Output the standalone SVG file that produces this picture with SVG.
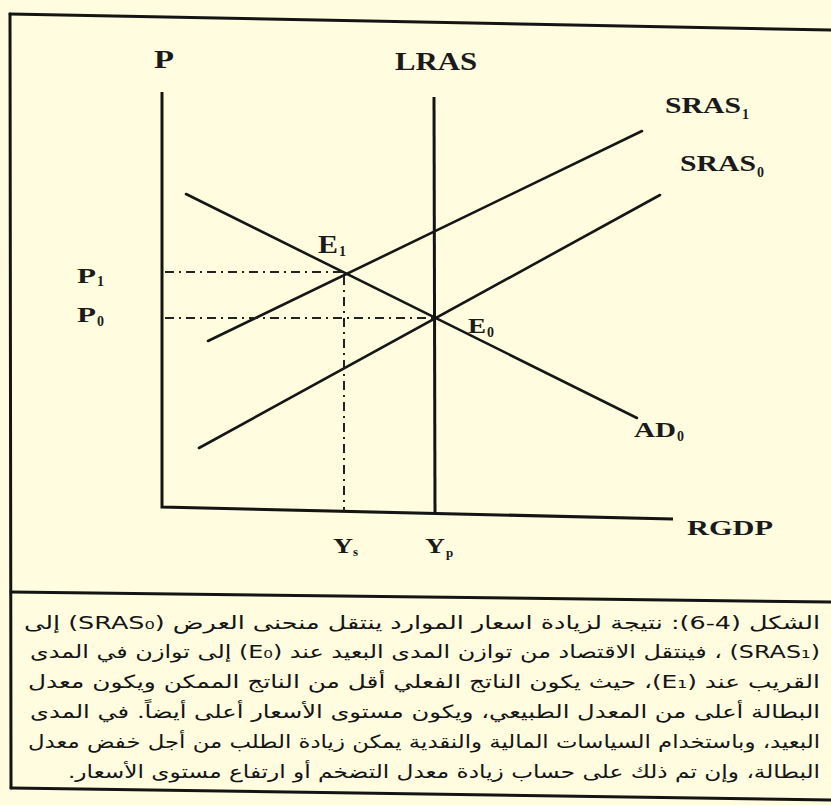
<svg xmlns="http://www.w3.org/2000/svg" width="831" height="805" viewBox="0 0 831 805">
<style>
.bg{fill:#FFFCDF}
.frame{stroke:#141414;stroke-width:3;fill:none;stroke-linecap:round}
.axis{stroke:#141414;stroke-width:3;fill:none}
.curve{stroke:#161616;stroke-width:2.6;fill:none;stroke-linecap:round}
.guide{stroke:#222;stroke-width:2;fill:none;stroke-dasharray:9 5 2 5}
.lbl{font-family:"Liberation Serif","DejaVu Serif",serif;font-weight:bold;fill:#1a1a1a}
.cap{font-family:"DejaVu Sans","Noto Sans",sans-serif;font-size:18px;fill:#141414}
</style>
<rect class="bg" x="0" y="0" width="831" height="805"/>
<g id="frame">
<path class="frame" d="M10,14 L831,30"/>
<path class="frame" d="M10,14 L11,788"/>
<path class="frame" d="M11,592 L831,602"/>
<path class="frame" d="M11,788 L831,800"/>
</g>
<g id="axes">
<path class="axis" d="M162,92 L162,507 L673,519"/>
</g>
<g id="connectors">
<path id="lras" class="axis" d="M434,97 L435,512"/>
<path id="ad0" class="curve" d="M186,194 L637,418"/>
<path id="sras1" class="curve" d="M208,341 L642,131"/>
<path id="sras0" class="curve" d="M199,448 L660,195"/>
<path id="p1-guide" class="guide" d="M165,272 L344,272"/>
<path id="p0-guide" class="guide" d="M165,318 L434,318"/>
<path id="ys-guide" class="guide" d="M344,276 L344,511"/>
</g>
<g id="label-P"><text class="lbl" x="154" y="68" font-size="25" textLength="20" lengthAdjust="spacingAndGlyphs">P</text></g>
<g id="label-LRAS"><text class="lbl" x="395" y="70" font-size="25" textLength="82" lengthAdjust="spacingAndGlyphs">LRAS</text></g>
<g id="label-SRAS1"><text class="lbl" x="665" y="113" font-size="23" textLength="76" lengthAdjust="spacingAndGlyphs">SRAS</text><text class="lbl" x="742" y="119" font-size="14">1</text></g>
<g id="label-SRAS0"><text class="lbl" x="680" y="171" font-size="23" textLength="76" lengthAdjust="spacingAndGlyphs">SRAS</text><text class="lbl" x="757" y="177" font-size="14">0</text></g>
<g id="label-E1"><text class="lbl" x="318" y="253" font-size="25" textLength="20" lengthAdjust="spacingAndGlyphs">E</text><text class="lbl" x="339" y="256" font-size="14">1</text></g>
<g id="label-P1"><text class="lbl" x="77" y="283" font-size="22" textLength="19" lengthAdjust="spacingAndGlyphs">P</text><text class="lbl" x="97" y="286" font-size="14">1</text></g>
<g id="label-P0"><text class="lbl" x="77" y="322" font-size="22" textLength="19" lengthAdjust="spacingAndGlyphs">P</text><text class="lbl" x="97" y="326" font-size="14">0</text></g>
<g id="label-E0"><text class="lbl" x="468" y="333" font-size="22" textLength="18" lengthAdjust="spacingAndGlyphs">E</text><text class="lbl" x="487" y="337" font-size="14">0</text></g>
<g id="label-AD0"><text class="lbl" x="634" y="437" font-size="22" textLength="42" lengthAdjust="spacingAndGlyphs">AD</text><text class="lbl" x="677" y="441" font-size="14">0</text></g>
<g id="label-RGDP"><text class="lbl" x="687" y="535" font-size="22" textLength="86" lengthAdjust="spacingAndGlyphs">RGDP</text></g>
<g id="label-Ys"><text class="lbl" x="333" y="553" font-size="20" textLength="20" lengthAdjust="spacingAndGlyphs">Y</text><text class="lbl" x="353" y="556" font-size="13">s</text></g>
<g id="label-Yp"><text class="lbl" x="425" y="553" font-size="20" textLength="20" lengthAdjust="spacingAndGlyphs">Y</text><text class="lbl" x="446" y="557" font-size="13">p</text></g>
<g id="caption">
<text class="cap" x="820" y="629" direction="rtl" text-anchor="start" textLength="796" lengthAdjust="spacingAndGlyphs">الشكل (4-6): نتيجة لزيادة اسعار الموارد ينتقل منحنى العرض (SRAS₀) إلى</text>
<text class="cap" x="820" y="658" direction="rtl" text-anchor="start" textLength="790" lengthAdjust="spacingAndGlyphs">(SRAS₁) ، فينتقل الاقتصاد من توازن المدى البعيد عند (E₀) إلى توازن في المدى</text>
<text class="cap" x="820" y="688" direction="rtl" text-anchor="start" textLength="792" lengthAdjust="spacingAndGlyphs">القريب عند (E₁)، حيث يكون الناتج الفعلي أقل من الناتج الممكن ويكون معدل</text>
<text class="cap" x="820" y="718" direction="rtl" text-anchor="start" textLength="790" lengthAdjust="spacingAndGlyphs">البطالة أعلى من المعدل الطبيعي، ويكون مستوى الأسعار أعلى أيضاً. في المدى</text>
<text class="cap" x="820" y="748" direction="rtl" text-anchor="start" textLength="792" lengthAdjust="spacingAndGlyphs">البعيد، وباستخدام السياسات المالية والنقدية يمكن زيادة الطلب من أجل خفض معدل</text>
<text class="cap" x="820" y="778" direction="rtl" text-anchor="start" textLength="752" lengthAdjust="spacingAndGlyphs">البطالة، وإن تم ذلك على حساب زيادة معدل التضخم أو ارتفاع مستوى الأسعار.</text>
</g>
</svg>
